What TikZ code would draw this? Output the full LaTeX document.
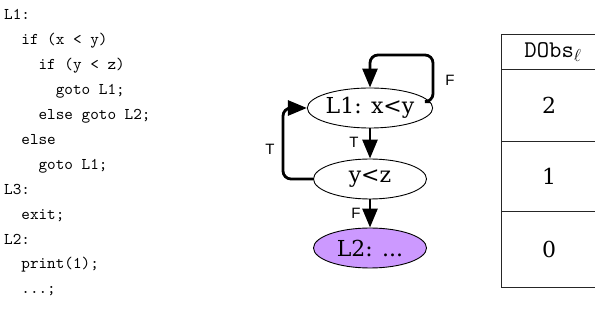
\documentclass[tikz,border=0pt]{standalone}
\usepackage{fontspec}
\setmainfont{Latin Modern Roman}
\setmonofont{Latin Modern Mono}
\newfontfamily\codefont{lmmono10-regular.otf}
\newfontfamily\nodefont{DejaVu Serif}
\newfontfamily\labfont{Liberation Sans}
\usetikzlibrary{shapes.geometric,arrows.meta}
\definecolor{lilac}{HTML}{CC99FF}
\newcommand*\ind{\hspace*{1.05em}}
\newcommand*\ttdots{...}
\tikzset{
  codeline/.style={anchor=base west, inner sep=0pt, font=\codefont\fontsize{16.4}{20}\selectfont},
  ellnode/.style={ellipse, draw, line width=0.9pt, minimum width=113pt, minimum height=40pt,
    inner sep=0pt, font=\nodefont\fontsize{22}{26}\selectfont},
  edge/.style={line width=2.8pt, -{Triangle[length=19pt,width=15pt]}},
  elabel/.style={inner sep=0pt, font=\labfont\fontsize{15}{18}\selectfont},
  cell/.style={inner sep=0pt, font=\nodefont\fontsize{22}{26}\selectfont},
  grid/.style={line width=0.8pt, draw=black!85}
}
\begin{document}
\begin{tikzpicture}[x=1pt,y=-1pt]
\useasboundingbox (0,0) rectangle (595,320);
% program listing
\foreach \txt [count=\i from 0] in {
  L1:,
  \ind if (x < y),
  \ind\ind if (y < z),
  \ind\ind\ind goto L1;,
  \ind\ind else goto L2;,
  \ind else,
  \ind\ind goto L1;,
  L3:,
  \ind exit;,
  L2:,
  \ind print(1);,
  \ind\ttdots;}
  \node[codeline] (code\i) at (4,{20+24.9*\i}) {\txt};
% control-flow graph
\node[ellnode] (n1) at (370,108) {L1: x<y};
\node[ellnode] (n2) at (370,179) {y<z};
\node[ellnode, fill=lilac] (n3) at (370,248) {L2: \ttdots};
\coordinate (fcorner) at (433,55);
\coordinate (tcorner) at (283,108);
\draw[edge, rounded corners=8pt] (n1.6) -| (fcorner) -| (n1.north);
\draw[edge, rounded corners=8pt] (n2.west) -| (tcorner) -- (n1.west);
\draw[edge] (n1.south) -- (n2.north);
\draw[edge] (n2.south) -- (n3.north);
\node[elabel] (lf1) at (450,80) {F};
\node[elabel] (lt1) at (270,149) {T};
\node[elabel] (lt2) at (354,142) {T};
\node[elabel] (lf2) at (356,213) {F};
% table
\draw[grid] (595,34) -- (501,34) -- (501,287) -- (595,287);
\draw[grid] (501,69) -- (595,69);
\draw[grid] (501,141) -- (595,141);
\draw[grid] (501,211) -- (595,211);
\node[inner sep=0pt, font=\ttfamily\fontsize{24}{26}\selectfont] (hd) at (553,52) {DObs$_\ell$};
\node[cell] (v2) at (549,105) {2};
\node[cell] (v1) at (549,176) {1};
\node[cell] (v0) at (549,249) {0};
\end{tikzpicture}
\end{document}
